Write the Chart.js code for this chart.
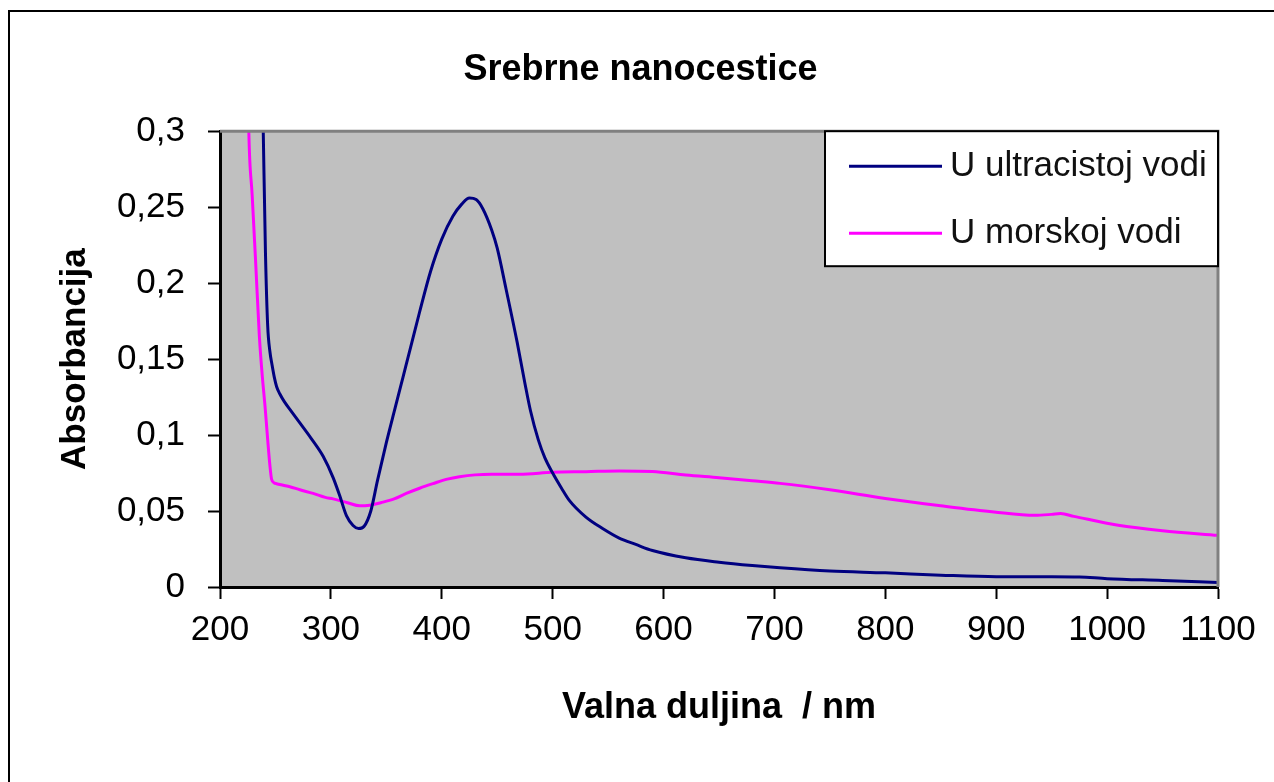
<!DOCTYPE html>
<html>
<head>
<meta charset="utf-8">
<title>Srebrne nanocestice</title>
<script src="https://cdn.jsdelivr.net/npm/chart.js@4.4.0/dist/chart.umd.min.js"></script>
<style>
  html, body { margin: 0; padding: 0; background: #fff; }
  canvas { display: block; }
</style>
</head>
<body>
<canvas id="myChart" width="1274" height="782"></canvas>
<script>
// spectra: wavelength in nm, absorbance
var waterNm = [236, 239, 241, 243, 245, 247, 249, 251, 254, 258, 265, 272, 282, 293, 302, 308, 314, 320, 325, 330,
    336, 342, 350, 358, 365, 372, 380, 390, 400, 410, 418, 425, 431, 437, 445, 450, 458, 468, 475, 480,
    487, 493, 500, 508, 515, 530, 545, 560, 575, 590, 620, 650, 680, 705, 750, 800, 850, 900, 950, 975, 1000, 1050, 1100];
var waterAbs = [0.42, 0.30, 0.22, 0.172, 0.155, 0.146, 0.138, 0.132, 0.127, 0.122, 0.115, 0.108, 0.098, 0.086, 0.072, 0.060, 0.047, 0.0405, 0.0385, 0.040,
    0.050, 0.070, 0.095, 0.118, 0.138, 0.158, 0.181, 0.208, 0.229, 0.244, 0.252, 0.256, 0.255, 0.249, 0.235, 0.223, 0.196, 0.161, 0.134, 0.116,
    0.097, 0.085, 0.075, 0.065, 0.057, 0.046, 0.0385, 0.0322, 0.028, 0.024, 0.0192, 0.0163, 0.0141, 0.0126, 0.0105, 0.0093, 0.0078, 0.0068, 0.0068, 0.0066, 0.0055, 0.0043, 0.003];

var seaNm = [224, 226, 229, 232, 235.5, 238, 240.6, 243, 245, 246.5, 249, 251, 257, 263, 272, 284, 295, 302, 315, 326,
    335, 345, 357, 368, 380, 392, 405, 416, 430, 445, 470, 500, 530, 560, 590, 620, 650, 680, 705, 750,
    800, 850, 898, 935, 950, 958, 970, 1010, 1050, 1100];
var seaAbs = [0.40, 0.30, 0.258, 0.216, 0.165, 0.14, 0.119, 0.097, 0.080, 0.071, 0.0685, 0.068, 0.067, 0.066, 0.064, 0.0616, 0.059, 0.058, 0.0555, 0.0534,
    0.0538, 0.0555, 0.058, 0.0616, 0.065, 0.068, 0.071, 0.0726, 0.0738, 0.0742, 0.0742, 0.0755, 0.0759, 0.0764, 0.0760, 0.0737, 0.0719, 0.0699, 0.0682, 0.064,
    0.0583, 0.0535, 0.0494, 0.0472, 0.0478, 0.0483, 0.0465, 0.0406, 0.037, 0.034];

var seriesLabels = ['U ultracistoj vodi', 'U morskoj vodi'];
var seriesColors = ['#000080', '#ff00ff'];
var yTickLabels = ['0', '0,05', '0,1', '0,15', '0,2', '0,25', '0,3'];

var fontFamily = "'Liberation Sans', Arial, sans-serif";

function toPoints(xs, ys) {
    return xs.map(function (x, i) { return { x: x, y: ys[i] }; });
}

// grey plot area and the outer frame
var plotBackground = {
    id: 'plotBackground',
    beforeDraw: function (chart) {
        var ctx = chart.ctx, a = chart.chartArea;
        ctx.save();
        ctx.fillStyle = '#c0c0c0';
        ctx.fillRect(a.left, a.top, a.right - a.left, a.bottom - a.top);
        ctx.strokeStyle = '#000';
        ctx.lineWidth = 2;
        ctx.strokeRect(9, 11, 1400, 900);
        ctx.restore();
    },
    afterDatasetsDraw: function (chart) {
        var ctx = chart.ctx, a = chart.chartArea;
        ctx.save();
        ctx.strokeStyle = '#808080';
        ctx.lineWidth = 3;
        ctx.beginPath();
        ctx.moveTo(a.left, a.top);
        ctx.lineTo(a.right, a.top);
        ctx.lineTo(a.right, a.bottom);
        ctx.stroke();
        ctx.restore();
    }
};

// legend box in the top right corner of the plot
var boxLegend = {
    id: 'boxLegend',
    afterDraw: function (chart) {
        var ctx = chart.ctx, a = chart.chartArea;
        var w = 393, h = 135;
        var left = a.right - w, top = a.top;
        ctx.save();
        ctx.fillStyle = '#fff';
        ctx.fillRect(left, top, w, h);
        ctx.strokeStyle = '#000';
        ctx.lineWidth = 2;
        ctx.strokeRect(left, top, w, h);
        ctx.font = '35px ' + fontFamily;
        ctx.textBaseline = 'middle';
        ctx.textAlign = 'left';
        chart.data.datasets.forEach(function (ds, i) {
            var y = top + 35 + i * 67;
            ctx.strokeStyle = ds.borderColor;
            ctx.lineWidth = 3;
            ctx.beginPath();
            ctx.moveTo(left + 24, y);
            ctx.lineTo(left + 117, y);
            ctx.stroke();
            ctx.fillStyle = '#111';
            ctx.fillText(ds.label, left + 125, y);
        });
        ctx.restore();
    }
};

var ctx = document.getElementById('myChart').getContext('2d');
var myChart = new Chart(ctx, {
    type: 'line',
    data: {
        datasets: [{
            label: seriesLabels[0],
            data: toPoints(waterNm, waterAbs),
            borderColor: seriesColors[0],
            borderWidth: 3,
            pointRadius: 0,
            fill: false,
            cubicInterpolationMode: 'monotone'
        }, {
            label: seriesLabels[1],
            data: toPoints(seaNm, seaAbs),
            borderColor: seriesColors[1],
            borderWidth: 3,
            pointRadius: 0,
            fill: false,
            cubicInterpolationMode: 'monotone'
        }]
    },
    options: {
        responsive: false,
        animation: false,
        devicePixelRatio: 1,
        layout: { padding: { left: 63, right: 56, top: 0, bottom: 0 } },
        plugins: {
            legend: { display: false },
            tooltip: { enabled: false },
            title: {
                display: true,
                text: 'Srebrne nanocestice',
                color: '#000',
                font: { family: fontFamily, size: 36, weight: 'bold' },
                padding: { top: 48, bottom: 40 }
            }
        },
        scales: {
            x: {
                type: 'linear',
                min: 200,
                max: 1100,
                afterFit: function (scale) { scale.height = 195; },
                ticks: {
                    stepSize: 100,
                    color: '#000',
                    padding: 10,
                    maxRotation: 0,
                    autoSkip: false,
                    font: { family: fontFamily, size: 35 },
                    callback: function (value) { return String(value); }
                },
                grid: { drawOnChartArea: false, drawTicks: true, tickLength: 12, tickWidth: 2, tickColor: '#000' },
                border: { display: true, color: '#000', width: 3 },
                title: {
                    display: true,
                    text: 'Valna duljina  / nm',
                    color: '#000',
                    font: { family: fontFamily, size: 36, weight: 'bold' },
                    padding: { top: 0, bottom: 52 }
                }
            },
            y: {
                min: 0,
                max: 0.3,
                afterFit: function (scale) { scale.width = 157; },
                ticks: {
                    stepSize: 0.05,
                    color: '#000',
                    padding: 23,
                    font: { family: fontFamily, size: 35 },
                    callback: function (value, index) { return yTickLabels[index]; }
                },
                grid: { drawOnChartArea: false, drawTicks: true, tickLength: 12, tickWidth: 2, tickColor: '#000' },
                border: { display: true, color: '#000', width: 3 },
                title: {
                    display: true,
                    text: 'Absorbancija',
                    color: '#000',
                    font: { family: fontFamily, size: 35, weight: 'bold' },
                    padding: { top: -9, bottom: 0 }
                }
            }
        }
    },
    plugins: [plotBackground, boxLegend]
});
</script>
</body>
</html>
